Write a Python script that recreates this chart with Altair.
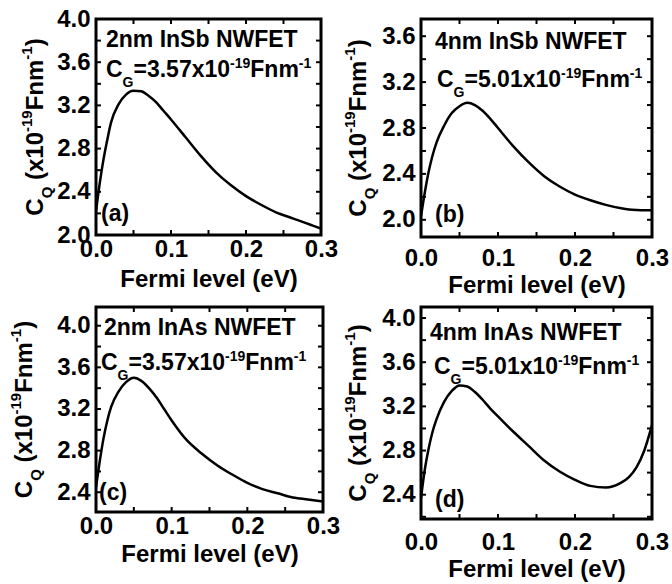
import altair as alt
import pandas as pd

FONT = "Liberation Sans"

# ---------------- data ----------------
fermi = [0.0, 0.005, 0.01, 0.015, 0.02, 0.03, 0.04, 0.05, 0.06, 0.07, 0.08, 0.09, 0.10,
         0.12, 0.14, 0.16, 0.18, 0.20, 0.22, 0.24, 0.26, 0.27, 0.28, 0.29, 0.30]
cq_a = [2.22, 2.48, 2.70, 2.88, 3.04, 3.21, 3.30, 3.335, 3.33, 3.29, 3.23, 3.15, 3.07,
        2.90, 2.73, 2.58, 2.46, 2.36, 2.28, 2.21, 2.16, 2.135, 2.11, 2.085, 2.06]
cq_b = [2.03, 2.24, 2.42, 2.56, 2.67, 2.82, 2.93, 2.99, 3.02, 3.00, 2.95, 2.88, 2.80,
        2.64, 2.50, 2.38, 2.29, 2.22, 2.17, 2.13, 2.10, 2.09, 2.085, 2.083, 2.083]
cq_c = [2.45, 2.70, 2.92, 3.09, 3.22, 3.37, 3.46, 3.50, 3.47, 3.40, 3.31, 3.20, 3.09,
        2.90, 2.77, 2.66, 2.57, 2.49, 2.43, 2.39, 2.35, 2.34, 2.33, 2.32, 2.31]
cq_d = [2.37, 2.63, 2.82, 2.97, 3.08, 3.24, 3.34, 3.39, 3.38, 3.33, 3.26, 3.18, 3.11,
        2.97, 2.84, 2.71, 2.61, 2.535, 2.48, 2.465, 2.51, 2.56, 2.65, 2.80, 3.03]

x_labels = [0.0, 0.1, 0.2, 0.3]
x_ticks = [0.05, 0.1, 0.15, 0.2, 0.25]

ylab_a = [2.0, 2.4, 2.8, 3.2, 3.6, 4.0]
ytick_a = [2.2, 2.4, 2.6, 2.8, 3.0, 3.2, 3.4, 3.6, 3.8]
ylab_b = [2.0, 2.4, 2.8, 3.2, 3.6]
ytick_b = [2.0, 2.2, 2.4, 2.6, 2.8, 3.0, 3.2, 3.4, 3.6]
ylab_c = [2.4, 2.8, 3.2, 3.6, 4.0]
ytick_c = [2.4, 2.6, 2.8, 3.0, 3.2, 3.4, 3.6, 3.8, 4.0]
ylab_d = [2.4, 2.8, 3.2, 3.6, 4.0]
ytick_d = [2.2, 2.4, 2.6, 2.8, 3.0, 3.2, 3.4, 3.6, 3.8, 4.0]

titles = ["2nm InSb NWFET", "4nm InSb NWFET", "2nm InAs NWFET", "4nm InAs NWFET"]
cg_values = ["3.57", "5.01", "3.57", "5.01"]
letters = ["(a)", "(b)", "(c)", "(d)"]

# ---------------- text helpers ----------------
MET = {'C': 722, 'Q': 778, 'G': 778, ' ': 278, '(': 333, ')': 333, 'x': 556, '1': 556,
       '0': 556, '9': 556, '-': 333, 'F': 611, 'n': 611, 'm': 889, '=': 584, '.': 278,
       '3': 556, '5': 556, '7': 556}


def tw(s, fs):
    return sum(MET.get(ch, 556) for ch in s) / 1000.0 * fs


one = pd.DataFrame({"k": [0]})


def text_layer(text, px, py, fs, angle=0):
    return alt.Chart(one).mark_text(
        text=text, fontSize=fs, angle=angle, align="left", baseline="alphabetic",
        font=FONT, fontWeight="bold", color="black"
    ).encode(x=alt.value(px), y=alt.value(py))


def rich(pieces, x0, y0, fs_main, fs_small, sub_shift, sup_shift, vertical=False, center=None):
    sizes = []
    for t, kind in pieces:
        fs = fs_main if kind in ("n", "gap") else fs_small
        sizes.append(tw(t, fs))
    total = sum(sizes)
    if vertical and center is not None:
        y0 = center + total / 2.0
    layers = []
    pos = 0.0
    for (t, kind), w in zip(pieces, sizes):
        if kind != "gap":
            fs = fs_main if kind == "n" else fs_small
            shift = 0 if kind == "n" else (sub_shift if kind == "sub" else -sup_shift)
            if vertical:
                layers.append(text_layer(t, x0 + shift, y0 - pos, fs, 270))
            else:
                layers.append(text_layer(t, x0 + pos, y0 + shift, fs, 0))
        pos += w
    return layers


ytitle_pieces = [("C", "n"), ("Q", "sub"), (" ", "gap"), ("(x10", "n"), ("-19", "sup"),
                 ("Fnm", "n"), ("-1", "sup"), (")", "n")]


def cg_pieces(v):
    return [("C", "n"), ("G", "sub"), ("=" + v + "x10", "n"), ("-19", "sup"),
            ("Fnm", "n"), ("-1", "sup")]


TL = 5


def panel(ys, ydom, ylab, ytick, W, H, idx, l1, l2, let, ytx, xlp, xtp):
    df = pd.DataFrame({"e": fermi, "c": ys})
    xs = alt.Scale(domain=[0, 0.3], nice=False, zero=False)
    ysc = alt.Scale(domain=ydom, nice=False, zero=False)
    xaxis = alt.Axis(values=x_labels, format=".1f", title="Fermi level (eV)",
                     labelFlush=False, labelOverlap=False, labelPadding=xlp,
                     titlePadding=xtp)
    yaxis = alt.Axis(values=ylab, format=".1f", title=None, labelFlush=False,
                     labelOverlap=False, labelPadding=6)
    line = alt.Chart(df).mark_line(color="black", strokeWidth=2.5, interpolate="monotone",
                                   clip=True).encode(
        x=alt.X("e:Q", scale=xs, axis=xaxis),
        y=alt.Y("c:Q", scale=ysc, axis=yaxis),
    )
    ytdf = pd.DataFrame({"v": ytick})
    xtdf = pd.DataFrame({"v": x_ticks})
    rule = dict(color="black", strokeWidth=2)
    tl = alt.Chart(ytdf).mark_rule(**rule).encode(
        y=alt.Y("v:Q", scale=ysc, axis=yaxis), x=alt.value(0), x2=alt.value(TL))
    tr = alt.Chart(ytdf).mark_rule(**rule).encode(
        y=alt.Y("v:Q", scale=ysc, axis=yaxis), x=alt.value(W - TL), x2=alt.value(W))
    tb = alt.Chart(xtdf).mark_rule(**rule).encode(
        x=alt.X("v:Q", scale=xs, axis=xaxis), y=alt.value(H), y2=alt.value(H - TL))
    tt = alt.Chart(xtdf).mark_rule(**rule).encode(
        x=alt.X("v:Q", scale=xs, axis=xaxis), y=alt.value(0), y2=alt.value(TL))

    layers = [line, tl, tr, tb, tt]
    layers.append(text_layer(titles[idx], l1[0], l1[1], 23))
    layers += rich(cg_pieces(cg_values[idx]), l2[0], l2[1], 23, 14, 10, 9)
    layers.append(text_layer(letters[idx], let[0], let[1], 23))
    layers += rich(ytitle_pieces, ytx, 0, 24, 15, 9, 11, vertical=True, center=H / 2.0)
    return alt.layer(*layers).properties(width=W, height=H)


pa = panel(cq_a, [2.0, 4.0], ylab_a, ytick_a, 225, 216, 0, (10, 28), (10, 58), (5, 202), -53, 2, 6)
pb = panel(cq_b, [1.85, 3.75], ylab_b, ytick_b, 231, 218, 1, (14, 30), (16, 68), (14, 203), -55, 9, 3)
pc = panel(cq_c, [2.21, 4.18], ylab_c, ytick_c, 227, 205, 2, (8, 28), (5, 63), (3, 193), -64, 2, 4)
pd_ = panel(cq_d, [2.18, 4.1], ylab_d, ytick_d, 231, 212, 3, (9, 33), (13, 67), (14, 200), -55, 11, 3)

chart = alt.concat(
    pa, pb, pc, pd_, columns=2, bounds="flush",
    spacing=alt.RowColnumber(row=70, column=98),
).properties(
    padding={"left": 7, "top": 5, "right": 0, "bottom": 0},
    background="white",
).configure_view(
    stroke="black", strokeWidth=3
).configure_axis(
    labelFont=FONT, titleFont=FONT, labelFontWeight="bold", titleFontWeight="bold",
    labelFontSize=24, titleFontSize=24, labelColor="black", titleColor="black",
    ticks=False, domain=False, grid=False
)

chart.save("out.html", embed_options={"renderer": "svg", "actions": False})
